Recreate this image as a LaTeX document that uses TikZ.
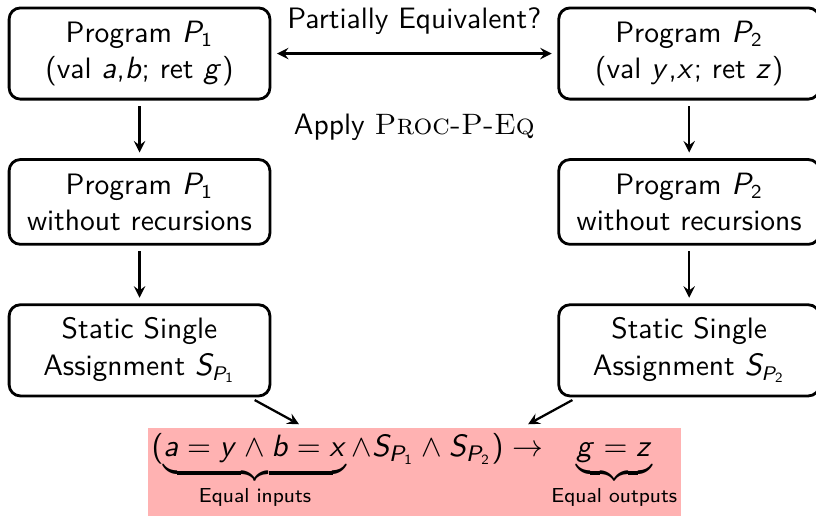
\documentclass[tikz,border=0pt]{standalone}
\usepackage{amsmath}
\usetikzlibrary{calc, positioning}
\SetSymbolFont{letters}{normal}{OT1}{cmss}{m}{sl}
\SetSymbolFont{operators}{normal}{OT1}{cmss}{m}{n}

\begin{document}
\begin{tikzpicture}[
        node distance=0.72cm,
        box/.style={rectangle, draw=black, line width=1pt, rounded corners=4pt, minimum width=3.26cm, minimum height=1.06cm, align=center, font=\sffamily\fontsize{10.5}{13}\selectfont},
        tall/.style={minimum height=1.14cm},
        lbl/.style={font=\sffamily\fontsize{10.5}{13}\selectfont},
        formula/.style={rectangle, fill=red!30, minimum width=6.66cm, minimum height=1.1cm, inner sep=0pt, font=\sffamily\fontsize{11}{13}\selectfont},
        arrow/.style={->, >=stealth, thick, shorten >=2pt, shorten <=2pt}
    ]
    \useasboundingbox (0,0) rectangle (10.2,-6.4375);

    % linke Spalte: P1
    \node[box, tall] (L1) at (1.744,-0.669) {Program $P_1$\\(val $a$,$b$; ret $g$)};
    \node[box, below=of L1] (L2) {Program $P_1$\\without recursions};
    \node[box, tall, below=of L2] (L3) {Static Single\\Assignment $S_{P_1}$};

    % rechte Spalte: P2
    \node[box, tall, right=3.575cm of L1] (R1) {Program $P_2$\\(val $y$,$x$; ret $z$)};
    \node[box, below=of R1] (R2) {Program $P_2$\\without recursions};
    \node[box, tall, below=of R2] (R3) {Static Single\\Assignment $S_{P_2}$};

    % Formel
    \coordinate (mid) at ($(L3.south)!0.5!(R3.south)$);
    \node[formula, anchor=north] (eq) at ($(mid)+(0,-0.37)$) {$(\underbrace{a = y \wedge b = x}_{\mbox{\fontsize{7.2}{8}\selectfont Equal inputs}} \wedge S_{P_1} \wedge S_{P_2}) \rightarrow \underbrace{g = z}_{\mbox{\fontsize{7.2}{8}\selectfont Equal outputs}}$};

    % Pfeile
    \draw[arrow, <->] (L1) -- (R1)
        node[midway, above=0.1cm, lbl] (ask) {Partially Equivalent?}
        node[midway, below=0.63cm, lbl] (apply) {Apply \textrm{\textsc{Proc-P-Eq}}};
    \draw[arrow] (L1) -- (L2);
    \draw[arrow] (L2) -- (L3);
    \draw[arrow] (R1) -- (R2);
    \draw[arrow] (R2) -- (R3);
    \draw[arrow] ($(L3.south east)+(-0.27,0)$) -- ($(eq.north)+(-1.38,0)$);
    \draw[arrow] ($(R3.south west)+(0.25,0)$) -- ($(eq.north)+(1.36,0)$);

\end{tikzpicture}
\end{document}
